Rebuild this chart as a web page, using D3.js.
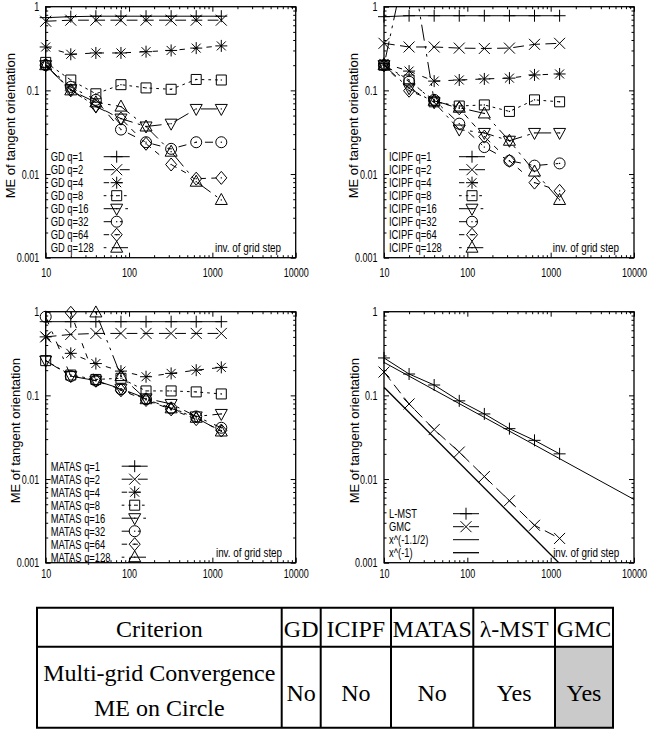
<!DOCTYPE html>
<html>
<head>
<meta charset="utf-8">
<script src="https://cdn.jsdelivr.net/npm/d3@7"></script>
<style>
body { margin: 0; background: #fff; }
svg text { font-family: "Liberation Sans", Arial, sans-serif; fill: #000; }
svg .tick text { font-size: 12.5px; }
</style>
</head>
<body>
<svg id="fig" width="649" height="730"></svg>
<script>
// ---- data ----
var gridSteps = [10, 20, 40, 80, 160, 320, 640, 1280];
var xTickValues = [10, 100, 1000, 10000];
var yTickValues = [0.001, 0.01, 0.1, 1];
var qLabels = ["q=1", "q=2", "q=4", "q=8", "q=16", "q=32", "q=64", "q=128"];

var gdValues = [
    [0.74, 0.76, 0.77, 0.77, 0.77, 0.77, 0.77, 0.77],
    [0.67, 0.69, 0.69, 0.69, 0.69, 0.69, 0.69, 0.69],
    [0.33, 0.27, 0.28, 0.28, 0.29, 0.30, 0.32, 0.34],
    [0.216, 0.133, 0.091, 0.117, 0.107, 0.103, 0.135, 0.133],
    [0.20, 0.103, 0.064, 0.046, 0.037, 0.040, 0.060, 0.060],
    [0.20, 0.11, 0.077, 0.034, 0.024, 0.020, 0.024, 0.024],
    [0.20, 0.10, 0.065, 0.046, 0.023, 0.013, 0.0088, 0.009],
    [0.20, 0.10, 0.072, 0.064, 0.037, 0.0185, 0.0081, 0.0049]
];

var icipfValues = [
    [0.76, 0.78, 0.78, 0.78, 0.78, 0.78, 0.78, 0.78],
    [0.365, 0.33, 0.33, 0.32, 0.317, 0.32, 0.355, 0.365],
    [0.21, 0.17, 0.129, 0.133, 0.137, 0.14, 0.153, 0.157],
    [0.20, 0.133, 0.073, 0.065, 0.067, 0.056, 0.077, 0.073],
    [0.20, 0.106, 0.072, 0.034, 0.031, 0.025, 0.031, 0.031],
    [0.20, 0.127, 0.077, 0.040, 0.021, 0.0144, 0.0126, 0.0134],
    [0.20, 0.099, 0.075, 0.061, 0.028, 0.0144, 0.0079, 0.0063],
    [0.20, 5, 0.075, 0.062, 0.053, 0.025, 0.0107, 0.0049]
];

var matasValues = [
    [0.76, 0.76, 0.76, 0.76, 0.76, 0.76, 0.76, 0.76],
    [0.50, 0.535, 0.55, 0.55, 0.55, 0.55, 0.55, 0.55],
    [0.50, 0.318, 0.24, 0.195, 0.167, 0.183, 0.20, 0.216],
    [0.26, 0.175, 0.155, 0.16, 0.113, 0.113, 0.11, 0.104],
    [0.26, 0.17, 0.15, 0.12, 0.092, 0.079, 0.056, 0.060],
    [0.87, 0.17, 0.15, 0.118, 0.09, 0.07, 0.056, 0.041],
    [null, 0.97, 0.15, 0.115, 0.088, 0.068, 0.052, 0.038],
    [null, null, 0.98, 0.17, 0.09, 0.07, 0.054, 0.037]
];

var lmstValues = [0.28, 0.18, 0.133, 0.086, 0.060, 0.040, 0.029, 0.020];
var gmcValues = [0.19, 0.079, 0.039, 0.021, 0.0107, 0.0055, 0.0028, 0.00195];
var refHalfX = [10, 10000];
var refHalfY = [0.248, 0.0057];
var refOneX = [10, 10000];
var refOneY = [0.125, 0.000125];

var tableHeader = ["Criterion", "GD", "ICIPF", "MATAS", "\u03bb-MST", "GMC"];
var tableRow = [["Multi-grid Convergence", "ME on Circle"], ["No"], ["No"], ["No"], ["Yes"], ["Yes"]];
var tableShaded = [false, false, false, false, false, true];

// ---- styles (gnuplot-like dash patterns and point types) ----
var dl = 2.7;
function dashOf(p) { return p ? p.map(function(d) { return d * dl; }).join(",") : null; }
var LT = [null, [4, 2], [2, 3], [1, 1.5], [6, 2, 1, 2], [3, 3, 1, 3], [2, 2, 2, 6], [1, 2, 6, 2, 1, 2]];
var qMarkers = ["plus", "cross", "star", "box", "tridown", "circle", "diamond", "triup"];
var serif = "'Liberation Serif', 'DejaVu Serif', 'Times New Roman', serif";

var W = 250, H = 251;
var svg = d3.select("#fig");

function qSeries(prefix, values) {
    return values.map(function(v, i) {
        return { label: prefix + " " + qLabels[i], xs: gridSteps, values: v, dash: dashOf(LT[i]), marker: qMarkers[i] };
    });
}

var panels = [
    { left: 45.7, top: 6.7, ylabX: -35.2, xlabDy: 15, keyLast: 241, keySample: 58, noteRight: -14.6,
      series: qSeries("GD", gdValues) },
    { left: 384, top: 6.7, ylabX: -31, xlabDy: 15, keyLast: 241, keySample: 75, noteRight: -15,
      series: qSeries("ICIPF", icipfValues) },
    { left: 45.7, top: 311.7, ylabX: -30.2, xlabDy: 11, keyLast: 245.5, keySample: 76, noteRight: -13.6,
      series: qSeries("MATAS", matasValues) },
    { left: 384, top: 311.7, ylabX: -30, xlabDy: 11, keyLast: 241, keySample: 69, noteRight: -14.7,
      series: [
          { label: "L-MST", xs: gridSteps, values: lmstValues, dash: null, marker: "plus" },
          { label: "GMC", xs: gridSteps, values: gmcValues, dash: dashOf(LT[1]), marker: "cross" },
          { label: "x^(-1.1/2)", xs: refHalfX, values: refHalfY, dash: null, marker: null },
          { label: "x^(-1)", xs: refOneX, values: refOneY, dash: null, marker: null, width: 1.3 }
      ] }
];

function drawMarker(g, type, cx, cy) {
    if (!type) return;
    var p = d3.path(), s = 6, hollow = true;
    if (type == "plus" || type == "star") {
        p.moveTo(cx - s, cy); p.lineTo(cx + s, cy);
        p.moveTo(cx, cy - s); p.lineTo(cx, cy + s);
        hollow = false;
    }
    if (type == "cross" || type == "star") {
        var c = type == "star" ? 4.5 : 5.5;
        p.moveTo(cx - c, cy - c); p.lineTo(cx + c, cy + c);
        p.moveTo(cx - c, cy + c); p.lineTo(cx + c, cy - c);
        hollow = false;
    }
    if (type == "box") p.rect(cx - 5, cy - 5, 10, 10);
    if (type == "circle") { p.moveTo(cx + 5.5, cy); p.arc(cx, cy, 5.5, 0, 2 * Math.PI); }
    if (type == "diamond") {
        p.moveTo(cx, cy - 6.5); p.lineTo(cx + 5.5, cy); p.lineTo(cx, cy + 6.5); p.lineTo(cx - 5.5, cy); p.closePath();
    }
    if (type == "triup") {
        p.moveTo(cx, cy - 6.5); p.lineTo(cx + 6, cy + 4.5); p.lineTo(cx - 6, cy + 4.5); p.closePath();
    }
    if (type == "tridown") {
        p.moveTo(cx, cy + 6.5); p.lineTo(cx + 6, cy - 4.5); p.lineTo(cx - 6, cy - 4.5); p.closePath();
    }
    g.append("path").attr("d", p.toString())
        .attr("fill", "none").attr("stroke", "#000").attr("stroke-width", 1);
    if (hollow) {
        g.append("rect").attr("x", cx - 0.6).attr("y", cy - 0.6)
            .attr("width", 1.2).attr("height", 1.2).attr("fill", "#000");
    }
}

function narrowText(g, str, x, y, anchor, size, squeeze) {
    return g.append("text")
        .attr("transform", "translate(" + x + "," + y + ") scale(" + (squeeze || 0.75) + ",1)")
        .attr("text-anchor", anchor)
        .style("font-size", (size || 12.5) + "px")
        .text(str);
}

function styleAxis(sel) {
    sel.select(".domain").remove();
    sel.selectAll(".tick line").attr("stroke", "#000").attr("stroke-width", 1);
}

panels.forEach(function(cfg, pi) {
    var g = svg.append("g").attr("transform", "translate(" + cfg.left + "," + cfg.top + ")");
    var x = d3.scaleLog().domain([10, 10000]).range([0, W]);
    var y = d3.scaleLog().domain([0.001, 1]).range([H, 0]);
    var xMinor = x.ticks().filter(function(t) { return xTickValues.indexOf(t) < 0; });
    var yMinor = y.ticks().filter(function(t) { return yTickValues.indexOf(t) < 0; });

    g.append("clipPath").attr("id", "clip" + pi)
        .append("rect").attr("width", W).attr("height", H);

    // major ticks with labels
    g.append("g").attr("transform", "translate(0," + H + ")")
        .call(d3.axisBottom(x).tickValues(xTickValues).tickFormat(d3.format("d"))
            .tickSize(-5).tickPadding(cfg.xlabDy - 4.8))
        .call(styleAxis)
        .selectAll("text").attr("transform", "scale(0.72,1)");
    g.append("g")
        .call(d3.axisLeft(y).tickValues(yTickValues).tickFormat(function(d) { return String(d); })
            .tickSize(-5).tickPadding(9))
        .call(styleAxis)
        .selectAll("text").attr("transform", "scale(0.72,1)");
    // mirrored and minor ticks
    g.append("g").call(d3.axisTop(x).tickValues(xTickValues).tickFormat("").tickSize(-5)).call(styleAxis);
    g.append("g").attr("transform", "translate(" + W + ",0)")
        .call(d3.axisRight(y).tickValues(yTickValues).tickFormat("").tickSize(-5)).call(styleAxis);
    g.append("g").attr("transform", "translate(0," + H + ")")
        .call(d3.axisBottom(x).tickValues(xMinor).tickFormat("").tickSize(-2.5)).call(styleAxis);
    g.append("g").call(d3.axisTop(x).tickValues(xMinor).tickFormat("").tickSize(-2.5)).call(styleAxis);
    g.append("g").call(d3.axisLeft(y).tickValues(yMinor).tickFormat("").tickSize(-2.5)).call(styleAxis);
    g.append("g").attr("transform", "translate(" + W + ",0)")
        .call(d3.axisRight(y).tickValues(yMinor).tickFormat("").tickSize(-2.5)).call(styleAxis);

    // y label
    g.append("text")
        .attr("transform", "translate(" + cfg.ylabX + "," + 119 + ") rotate(-90)")
        .attr("text-anchor", "middle").attr("dy", "0.35em")
        .style("font-size", "13px")
        .text("ME of tangent orientation");

    // series
    var line = d3.line()
        .defined(function(d) { return d[1] != null; })
        .x(function(d) { return x(d[0]); })
        .y(function(d) { return y(d[1]); });
    var plot = g.append("g");
    cfg.series.forEach(function(s) {
        var pts = s.xs.map(function(xv, i) { return [xv, s.values[i]]; });
        plot.append("path")
            .attr("d", line(pts))
            .attr("clip-path", "url(#clip" + pi + ")")
            .attr("fill", "none").attr("stroke", "#000")
            .attr("stroke-width", s.width || 1)
            .attr("stroke-dasharray", s.dash);
        pts.forEach(function(d) {
            if (d[1] == null || d[1] < 0.001 || d[1] > 1.0001) return;
            drawMarker(plot, s.marker, x(d[0]), y(d[1]));
        });
    });

    // key
    var n = cfg.series.length;
    cfg.series.forEach(function(s, i) {
        var ry = cfg.keyLast - (n - 1 - i) * 13;
        narrowText(g, s.label, 5, ry + 4.5, "start");
        g.append("line")
            .attr("x1", cfg.keySample).attr("x2", cfg.keySample + 26)
            .attr("y1", ry).attr("y2", ry)
            .attr("stroke", "#000").attr("stroke-width", s.width || 1)
            .attr("stroke-dasharray", s.dash);
        drawMarker(g, s.marker, cfg.keySample + 13, ry);
    });

    // x label inside the frame
    narrowText(g, "inv. of grid step", W + cfg.noteRight, 245.5, "end", 12.5, 0.79);

    // frame
    g.append("rect").attr("width", W).attr("height", H)
        .attr("fill", "none").attr("stroke", "#000").attr("stroke-width", 1.3);
});

// ---- table ----
var colEdges = [37, 281.7, 320.7, 391, 473.3, 555, 613];
var rowEdges = [607.7, 646.7, 727.7];
var tbl = svg.append("g");

tableShaded.forEach(function(sh, i) {
    if (!sh) return;
    tbl.append("rect")
        .attr("x", colEdges[i]).attr("y", rowEdges[1])
        .attr("width", colEdges[i + 1] - colEdges[i]).attr("height", rowEdges[2] - rowEdges[1])
        .attr("fill", "#cacaca");
});

function cellText(str, x, y) {
    return tbl.append("text").attr("x", x).attr("y", y)
        .attr("text-anchor", "middle")
        .style("font-family", serif).style("font-size", "24px")
        .text(str);
}

tableHeader.forEach(function(h, i) {
    cellText(h, (colEdges[i] + colEdges[i + 1]) / 2, rowEdges[0] + 29);
});

tableRow.forEach(function(lines, i) {
    var cx = (colEdges[i] + colEdges[i + 1]) / 2;
    var base = lines.length == 1 ? [701] : [681, 716];
    lines.forEach(function(t, j) { cellText(t, cx, base[j]); });
});

rowEdges.forEach(function(ry) {
    tbl.append("line").attr("x1", colEdges[0] - 1).attr("x2", colEdges[colEdges.length - 1] + 1)
        .attr("y1", ry).attr("y2", ry).attr("stroke", "#000").attr("stroke-width", 2);
});
colEdges.forEach(function(cx) {
    tbl.append("line").attr("x1", cx).attr("x2", cx)
        .attr("y1", rowEdges[0]).attr("y2", rowEdges[2])
        .attr("stroke", "#000").attr("stroke-width", 2);
});
</script>
</body>
</html>
